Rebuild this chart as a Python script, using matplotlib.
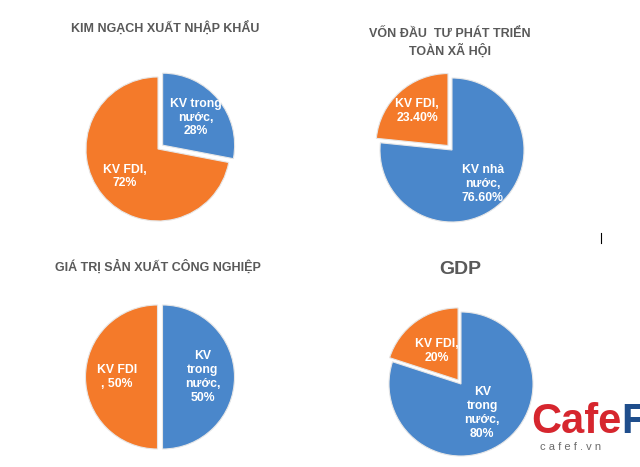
import matplotlib.pyplot as plt

# data
labels1 = ["KV trong\nnước,\n28%", "KV FDI,\n72%"]
values1 = [28, 72]

labels2 = ["KV nhà\nnước,\n76.60%", "KV FDI,\n23.40%"]
values2 = [76.6, 23.4]

labels3 = ["KV\ntrong\nnước,\n50%", "KV FDI\n, 50%"]
values3 = [50, 50]

labels4 = ["KV\ntrong\nnước,\n80%", "KV FDI,\n20%"]
values4 = [80, 20]

blue = "#4a87cb"
orange = "#f47a2a"
title_col = "#595959"

fig = plt.figure(figsize=(6.4, 4.67), dpi=100)
ax = fig.add_axes([0, 0, 1, 1])
H = 467
R = 72


def draw_pie(vals, labels, cx, cy, explode, pctdist):
    # explode is given in pixels (pie uses absolute units)
    wedges, texts, autotexts = ax.pie(
        vals, colors=[blue, orange], startangle=90, counterclock=False,
        center=(cx, H - cy), radius=R, explode=explode,
        autopct='%1.0f%%', pctdistance=pctdist,
        wedgeprops=dict(edgecolor='#e6e6e6', linewidth=0.8),
        textprops=dict(color='white', fontsize=8.8, fontweight='bold',
                       family='Liberation Sans', linespacing=1.2))
    for t, lab in zip(autotexts, labels):
        t.set_text(lab)
        t.set_ha('center')
        t.set_va('center')


draw_pie(values1, labels1, 158, 149, [6, 0], 0.6)
draw_pie(values2, labels2, 452, 150, [0, 6], 0.64)
draw_pie(values3, labels3, 160, 377, [2.5, 2.5], 0.56)
draw_pie(values4, labels4, 461, 384, [0, 5], 0.5)

tkw = dict(color=title_col, fontweight='bold', family='Liberation Sans',
           ha='center', va='center')
ax.text(165, H - 28, "KIM NGẠCH XUẤT NHẬP KHẨU", fontsize=9, **tkw)
ax.text(450, H - 43, "VỐN ĐẦU  TƯ PHÁT TRIỂN\nTOÀN XÃ HỘI", fontsize=9,
        linespacing=1.3, **tkw)
ax.text(158, H - 267, "GIÁ TRỊ SẢN XUẤT CÔNG NGHIỆP", fontsize=9, **tkw)
ax.text(460, H - 269, "GDP", fontsize=14, **tkw)

# logo
ax.text(531, H - 422, "Cafe", fontsize=30, fontweight='bold', color='#d6262e',
        family='Liberation Sans', ha='left', va='center')
ax.text(621, H - 422, "F", fontsize=30, fontweight='bold', color='#1f4e8c',
        family='Liberation Sans', ha='left', va='center')
ax.text(540, H - 447, "c a f e f . v n", fontsize=8, color='#6b6b6b',
        family='Liberation Sans', ha='left', va='center')
ax.plot([601, 601], [H - 233, H - 243], color='black', linewidth=0.8)

ax.set_xlim(0, 640)
ax.set_ylim(0, H)
ax.set_aspect('equal')
ax.axis('off')

fig.savefig("out.png", dpi=100, facecolor='white')
